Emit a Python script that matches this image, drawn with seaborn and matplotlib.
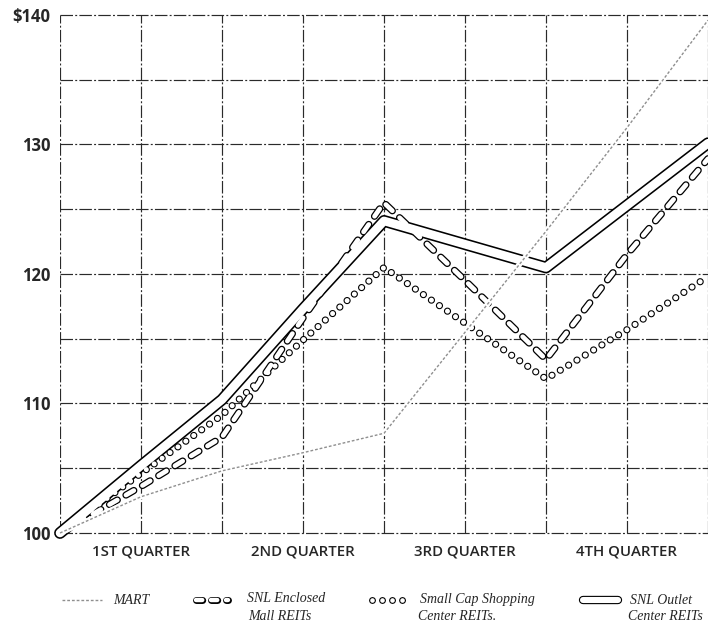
import matplotlib
matplotlib.use("Agg")
import matplotlib.pyplot as plt
from matplotlib.lines import Line2D
import pandas as pd
import seaborn as sns

# Half-quarter steps across the year (quarter boundaries at 0, 2, 4, 6, 8)
steps = [0, 1, 2, 3, 4, 5, 6, 7, 8]
quarter_labels = ["1ST QUARTER", "2ND QUARTER", "3RD QUARTER", "4TH QUARTER"]
quarter_centers = [1, 3, 5, 7]
y_ticks = [100, 110, 120, 130, 140]
y_tick_labels = ["100", "110", "120", "130", "$140"]

# Value of $100 invested at the start of the year
mart = [100, 102.8, 104.8, 106.2, 107.7, 115.5, 123.3, 131.3, 139.6]
enclosed_mall = [100, 103.6, 107.4, 116.6, 125.5, 119.5, 113.4, 121.5, 128.9]
small_cap = [100, 104.6, 109.1, 114.9, 120.5, 116.2, 111.9, 115.7, 119.8]
outlet = [100, 105.2, 110.3, 117.3, 124.1, 122.3, 120.5, 125.3, 130.1]

df = pd.DataFrame({
    "step": steps,
    "MART": mart,
    "Enclosed": enclosed_mall,
    "SmallCap": small_cap,
    "Outlet": outlet,
})

sns.set_style("white")
plt.rcParams["lines.scale_dashes"] = False
plt.rcParams["font.family"] = ["Open Sans", "DejaVu Sans"]

fig = plt.figure(figsize=(7.08, 6.22), dpi=100)
ax = fig.add_axes([60 / 708, 89 / 622, 648 / 708, 518 / 622])


def style_last(ls, clip=False):
    ln = ax.lines[-1]
    ln.set_linestyle(ls)
    ln.set_dash_capstyle("round")
    ln.set_solid_capstyle("round")
    ln.set_solid_joinstyle("round")
    ln.set_clip_on(clip)
    return ln


# hollow line styles: (outer black width, inner white width, dash pattern)
styles = {
    "Enclosed": (5.2, 3.4, (0, (6.5, 7.2))),
    "SmallCap": (5.2, 3.6, (0, (0.01, 7.0))),
    "Outlet": (8.5, 6.2, "-"),
}

# black casings first, then white interiors so overlapping shapes merge
for col, (outer, inner, ls) in styles.items():
    sns.lineplot(data=df, x="step", y=col, ax=ax, color="black",
                 linewidth=outer, zorder=3)
    style_last(ls)
for col, (outer, inner, ls) in styles.items():
    sns.lineplot(data=df, x="step", y=col, ax=ax, color="white",
                 linewidth=inner, zorder=4)
    style_last(ls)

# MART: faint stippled line with a white halo where it crosses the others
sns.lineplot(data=df, x="step", y="MART", ax=ax, color="white",
             linewidth=4, zorder=5)
style_last("-", clip=True)
sns.lineplot(data=df, x="step", y="MART", ax=ax, color="#8f8f8f",
             linewidth=1.0, zorder=6)
ln = ax.lines[-1]
ln.set_linestyle((0, (2.0, 1.4)))
ln.set_clip_on(False)

ax.set_xlim(0, 8)
ax.set_ylim(100, 140)
ax.set_xticks(quarter_centers)
ax.set_xticklabels(quarter_labels)
ax.set_xticks(steps, minor=True)
ax.set_yticks(y_ticks)
ax.set_yticklabels(y_tick_labels)
ax.set_yticks([105, 115, 125, 135], minor=True)
ax.set_xlabel("")
ax.set_ylabel("")

grid_kw = dict(color="#2a2a2a", linewidth=0.85, linestyle=(0, (9, 1.6, 1.4, 1.6)))
ax.grid(True, which="both", axis="both", **grid_kw)
for gl in ax.get_xgridlines() + ax.get_ygridlines():
    gl.set_clip_on(False)
    gl.set_zorder(1)
ax.set_axisbelow(True)
for sp in ax.spines.values():
    sp.set_visible(False)

ax.tick_params(axis="both", which="both", length=0)
ax.tick_params(axis="y", pad=7)
ax.tick_params(axis="x", pad=8)
for t in ax.get_yticklabels():
    t.set_fontsize(12)
    t.set_fontweight("bold")
for t in ax.get_xticklabels():
    t.set_fontsize(10.8)
    t.set_fontweight("semibold")

# legend row drawn in figure pixels
W, H = 708, 622


def fx(px):
    return px / W


def fy(py):
    return 1 - py / H


def hollow(x0, x1, y, outer, inner, ls):
    for lw, c in ((outer, "black"), (inner, "white")):
        l = Line2D([fx(x0), fx(x1)], [fy(y), fy(y)], transform=fig.transFigure,
                   color=c, linewidth=lw, linestyle=ls,
                   dash_capstyle="round", solid_capstyle="round")
        fig.add_artist(l)


fig.add_artist(Line2D([fx(62), fx(102)], [fy(600), fy(600)],
                      transform=fig.transFigure, color="#8f8f8f",
                      linewidth=1.0, linestyle=(0, (2.0, 1.4))))
hollow(196, 228, 600, 5.0, 3.2, (0, (4.5, 6.3)))
hollow(372, 403.5, 600, 5.0, 3.4, (0, (0.01, 7.2)))
hollow(583, 618, 600, 6.0, 4.4, "-")

leg_font = dict(family="Liberation Serif", style="italic", fontsize=10,
                va="center", ha="left", transform=fig.transFigure)
fig.text(fx(113), fy(600), "MART", **leg_font)
fig.text(fx(247), fy(599), "SNL Enclosed", **leg_font)
fig.text(fx(248), fy(616), "Mall REITs", **leg_font)
fig.text(fx(420), fy(600), "Small Cap Shopping", **leg_font)
fig.text(fx(418), fy(616), "Center REITs.", **leg_font)
fig.text(fx(630), fy(600), "SNL Outlet", **leg_font)
fig.text(fx(628), fy(616), "Center REITs", **leg_font)

fig.savefig("out.png", dpi=100)
